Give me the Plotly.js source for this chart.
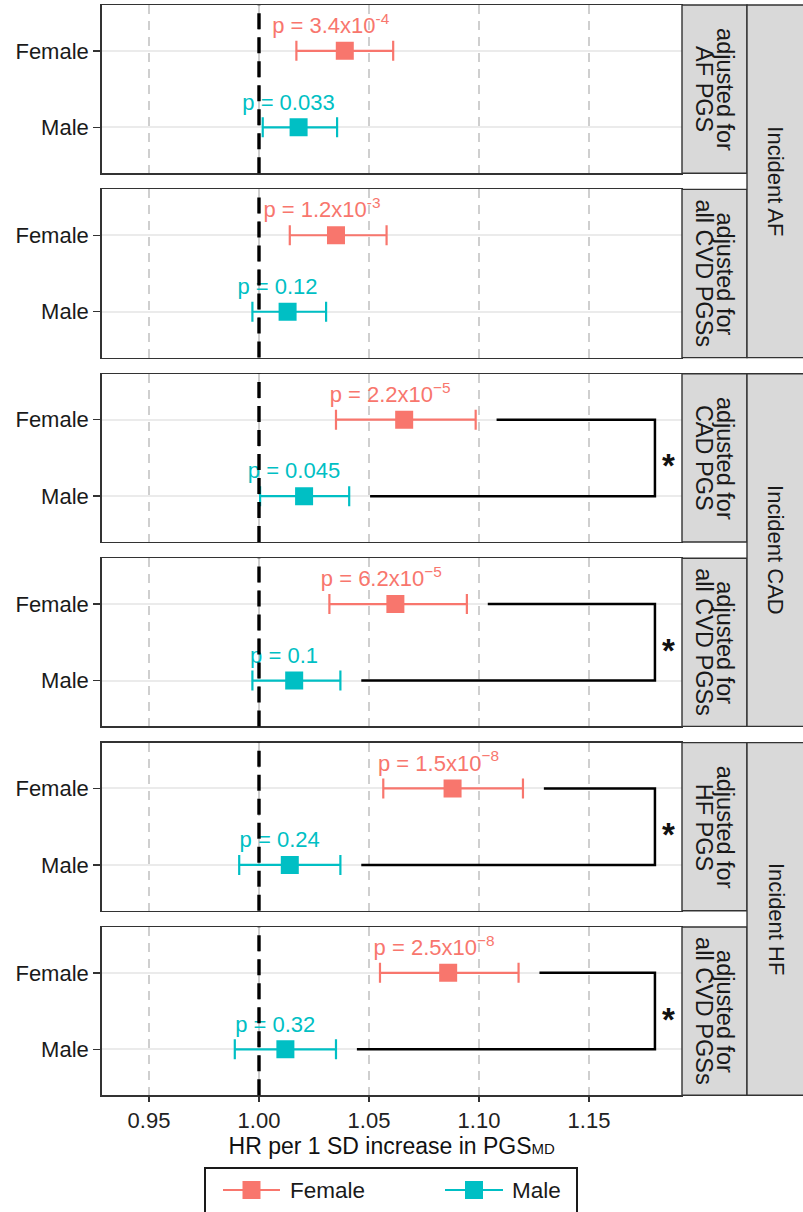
<!DOCTYPE html>
<html>
<head>
<meta charset="utf-8">
<script src="https://cdn.plot.ly/plotly-3.0.1.min.js"></script>
<style>html,body{margin:0;padding:0;background:#fff;}#chart{width:803px;height:1212px;}</style>
</head>
<body>
<div id="chart"></div>
<script>
// ---- data ----
const adjustLine1 = ['adjusted for','adjusted for','adjusted for','adjusted for','adjusted for','adjusted for'];
const adjustLine2 = ['AF PGS','all CVD PGSs','CAD PGS','all CVD PGSs','HF PGS','all CVD PGSs'];
const outcomes = ['Incident AF','Incident CAD','Incident HF'];
const sexes = ['Female','Male'];
const femaleHR = [1.039, 1.035, 1.066, 1.062, 1.088, 1.086];
const femaleLo = [1.017, 1.014, 1.035, 1.032, 1.0565, 1.055];
const femaleHi = [1.061, 1.058, 1.0985, 1.0945, 1.120, 1.118];
const maleHR = [1.018, 1.013, 1.0205, 1.016, 1.014, 1.012];
const maleLo = [1.0017, 0.997, 1.0005, 0.997, 0.991, 0.989];
const maleHi = [1.0355, 1.0305, 1.041, 1.037, 1.037, 1.035];
const femaleP = ['3.4x10<sup>-4</sup>','1.2x10<sup>-3</sup>','2.2x10<sup>\u22125</sup>','6.2x10<sup>\u22125</sup>','1.5x10<sup>\u22128</sup>','2.5x10<sup>\u22128</sup>'];
const maleP = ['0.033','0.12','0.045','0.1','0.24','0.32'];
const significant = [false,false,true,true,true,true];
const xTicks = [0.95, 1.00, 1.05, 1.10, 1.15];
const xTickText = ['0.95','1.00','1.05','1.10','1.15'];
const refHR = 1.0;
const bracketX = 1.18;

// ---- style ----
const FONT = 'Liberation Sans, Arial, Helvetica, sans-serif';
const colF = '#F8766D', colM = '#00BFC4';
const W = 803, H = 1212;
const plotL = 101.5, plotR = 682, stripR = 747;
const panelTop0 = 5, panelPitch = 184.4, panelH = 168.2;
const yPos = {Female: 1, Male: 0};
const px = v => v / W, py = v => 1 - v / H;

const data = [];
const layout = {
  width: W, height: H,
  margin: {l:0, r:0, t:0, b:0},
  paper_bgcolor: '#fff', plot_bgcolor: '#fff',
  font: {family: FONT, size: 22, color: '#1a1a1a'},
  showlegend: false,
  shapes: [], annotations: []
};

for (let i = 0; i < 6; i++) {
  const s = i === 0 ? '' : String(i + 1);
  const xa = 'x' + s, ya = 'y' + s;
  const topPx = panelTop0 + i * panelPitch, botPx = topPx + panelH;
  const dom = [1 - botPx / H, 1 - topPx / H];
  const last = i === 5;
  layout['xaxis' + s] = {
    domain: [plotL / W, plotR / W], anchor: ya, range: [0.9284, 1.1923],
    tickvals: xTicks, ticktext: xTickText, showticklabels: last,
    ticks: last ? 'outside' : '', ticklen: 5, tickwidth: 1.3, tickcolor: '#333',
    showgrid: true, gridcolor: '#cfcfcf', gridwidth: 1.5, griddash: '9px,7px',
    zeroline: false, showline: true, mirror: true, linecolor: '#333', linewidth: 1.3,
    tickfont: {family: FONT, size: 22, color: '#222'},
    fixedrange: true
  };
  if (last) {
    layout['xaxis' + s].title = {text: 'HR per 1 SD increase in PGS<span style="font-size:15px">MD</span>', font: {family: FONT, size: 23, color: '#111'}, standoff: 2};
  }
  if (i > 0) layout['xaxis' + s].matches = 'x';
  layout['yaxis' + s] = {
    domain: dom, anchor: xa, range: [-0.6, 1.6],
    tickvals: sexes.map(k => yPos[k]), ticktext: sexes,
    ticks: 'outside', ticklen: 7, tickwidth: 1.3, tickcolor: '#333',
    showgrid: true, gridcolor: '#EBEBEB', gridwidth: 2,
    zeroline: false, showline: true, mirror: true, linecolor: '#333', linewidth: 1.3,
    tickfont: {family: FONT, size: 22, color: '#1a1a1a'},
    fixedrange: true
  };

  // bracket for significant sex difference
  if (significant[i]) {
    data.push({
      type: 'scatter', mode: 'lines', xaxis: xa, yaxis: ya, showlegend: false, hoverinfo: 'skip',
      x: [femaleHi[i] + 0.0095, bracketX, bracketX, maleHi[i] + 0.0095],
      y: [yPos.Female, yPos.Female, yPos.Male, yPos.Male],
      line: {color: '#000', width: 2.5}
    });
    layout.annotations.push({
      xref: xa, yref: ya, x: bracketX, y: (yPos.Female + yPos.Male) / 2,
      text: '<b>*</b>', showarrow: false, xanchor: 'center', yanchor: 'middle',
      xshift: 14, yshift: -8, font: {family: FONT, size: 33, color: '#111'}
    });
  }

  // points with CIs
  const groups = [
    {sex: 'Female', hr: femaleHR, lo: femaleLo, hi: femaleHi, p: femaleP, col: colF, off: 0.0064},
    {sex: 'Male', hr: maleHR, lo: maleLo, hi: maleHi, p: maleP, col: colM, off: 0.0046}
  ];
  groups.forEach(g => {
    data.push({
      type: 'scatter', mode: 'markers', xaxis: xa, yaxis: ya,
      name: g.sex, showlegend: false,
      x: [g.hr[i]], y: [yPos[g.sex]],
      marker: {symbol: 'square', size: 18, color: g.col},
      error_x: {type: 'data', symmetric: false, array: [g.hi[i] - g.hr[i]], arrayminus: [g.hr[i] - g.lo[i]],
                color: g.col, thickness: 2.2, width: 10}
    });
    data.push({
      type: 'scatter', mode: 'text', xaxis: xa, yaxis: ya, showlegend: false, hoverinfo: 'skip',
      x: [g.hr[i] - g.off], y: [yPos[g.sex] + 0.305],
      text: ['p = ' + g.p[i]], textposition: 'middle center',
      textfont: {family: FONT, size: 22, color: g.col}, cliponaxis: false
    });
  });

  // reference line at HR = 1
  layout.shapes.push({
    type: 'line', xref: xa, yref: ya + ' domain', x0: refHR, x1: refHR, y0: 0, y1: 1,
    line: {color: '#000', width: 3.4, dash: '16px,8px'}, layer: 'above'
  });

  // inner strip
  layout.shapes.push({
    type: 'rect', xref: 'paper', yref: 'paper', x0: plotR / W, x1: stripR / W, y0: dom[0], y1: dom[1],
    fillcolor: '#D9D9D9', line: {color: '#333', width: 1.4}, layer: 'above'
  });
  const yMid = (dom[0] + dom[1]) / 2;
  layout.annotations.push({
    xref: 'paper', yref: 'paper', x: 725 / W, y: yMid, text: adjustLine1[i], textangle: 90,
    showarrow: false, xanchor: 'center', yanchor: 'middle', font: {family: FONT, size: 23.5, color: '#1a1a1a'}
  });
  layout.annotations.push({
    xref: 'paper', yref: 'paper', x: 704 / W, y: yMid, text: adjustLine2[i], textangle: 90,
    showarrow: false, xanchor: 'center', yanchor: 'middle', font: {family: FONT, size: 23.5, color: '#1a1a1a'}
  });
}

// outer strips
for (let j = 0; j < 3; j++) {
  const topPx = panelTop0 + (2 * j) * panelPitch;
  const botPx = panelTop0 + (2 * j + 1) * panelPitch + panelH;
  const y0 = 1 - botPx / H, y1 = 1 - topPx / H;
  layout.shapes.push({
    type: 'rect', xref: 'paper', yref: 'paper', x0: stripR / W, x1: 1.01, y0: y0, y1: y1,
    fillcolor: '#D9D9D9', line: {color: '#333', width: 1.4}, layer: 'above'
  });
  layout.annotations.push({
    xref: 'paper', yref: 'paper', x: 776 / W, y: (y0 + y1) / 2, text: outcomes[j], textangle: 90,
    showarrow: false, xanchor: 'center', yanchor: 'middle', font: {family: FONT, size: 22, color: '#1a1a1a'}
  });
}

// legend (drawn as a keyed box below the axis title)
const legendItems = [
  {name: sexes[0], col: colF, lineX0: 223, lineX1: 280, textX: 288},
  {name: sexes[1], col: colM, lineX0: 445, lineX1: 503, textX: 510}
];
const legY = 1190;
layout.shapes.push({
  type: 'rect', xref: 'paper', yref: 'paper', x0: px(205), x1: px(577), y0: py(1222), y1: py(1168),
  fillcolor: 'rgba(0,0,0,0)', line: {color: '#1a1a1a', width: 2}
});
legendItems.forEach(it => {
  const cx = (it.lineX0 + it.lineX1) / 2;
  layout.shapes.push({
    type: 'line', xref: 'paper', yref: 'paper', x0: px(it.lineX0), x1: px(it.lineX1), y0: py(legY), y1: py(legY),
    line: {color: it.col, width: 2.2}
  });
  layout.shapes.push({
    type: 'rect', xref: 'paper', yref: 'paper', x0: px(cx - 9), x1: px(cx + 9), y0: py(legY + 9), y1: py(legY - 9),
    fillcolor: it.col, line: {width: 0}
  });
  layout.annotations.push({
    xref: 'paper', yref: 'paper', x: px(it.textX), y: py(legY), text: it.name, showarrow: false,
    xanchor: 'left', yanchor: 'middle', font: {family: FONT, size: 22.5, color: '#1a1a1a'}
  });
});

Plotly.newPlot('chart', data, layout, {displayModeBar: false, staticPlot: true});
</script>
</body>
</html>
